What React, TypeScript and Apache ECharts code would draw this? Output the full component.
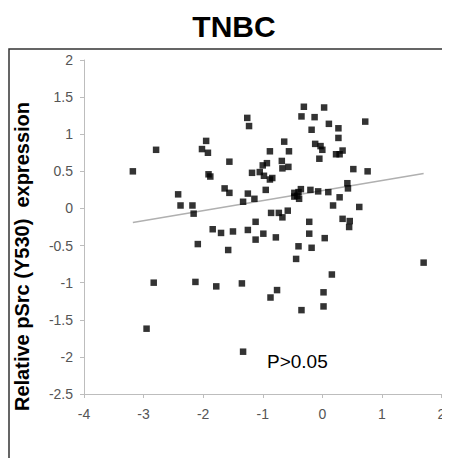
import React, { useEffect, useRef } from "react";
import * as echarts from "echarts";

const xValues = [
  -3.18, -2.79, -2.42, -2.38, -2.18, -2.16, -2.02, -1.95, -1.92, -1.91,
  -1.88, -1.64, -1.56, -1.56, -1.33, -1.26, -1.23, -1.25, -1.18, -1.14,
  -1.12, -1.05, -1.0, -0.93, -0.98, -0.88, -0.84, -0.95, -0.88, -0.64,
  -0.56, -0.68, -0.57, -0.67, -0.31, 0.03, -0.35, -0.13, 0.11, 0.27,
  0.72, -0.18, 0.27, -0.12, -0.03, 0.0, 0.34, 0.23, 0.29, -0.05,
  0.52, 0.76, -0.36, -0.4, -0.47, -0.42, -0.39, -0.47, -0.2, -0.07,
  0.1, 0.29, 0.42, 0.43, 0.18, 0.62, -0.86, -0.73, -0.67, -0.58,
  -1.84, -1.7, -1.5, -1.25, -0.99, -1.12, -0.78, -0.22, 0.34, 0.46,
  0.45, -0.22, 0.04, -0.4, -0.18, -2.09, -1.58, -0.44, 0.16, 0.02,
  0.02, -0.35, -0.76, -0.87, 1.7, -1.35, -1.33, -2.83, -2.13, -1.78,
  -2.95,
];
const yValues = [
  0.5, 0.79, 0.19, 0.04, 0.04, -0.07, 0.8, 0.91, 0.75, 0.46,
  0.43, 0.27, 0.21, 0.63, 0.09, 1.22, 1.11, 0.2, 0.48, 0.13,
  -0.18, 0.49, 0.58, 0.61, 0.44, 0.39, 0.41, 0.25, 0.77, 0.9,
  0.77, 0.64, 0.56, 0.54, 1.37, 1.36, 1.24, 1.23, 1.14, 1.08,
  1.17, 1.06, 0.95, 0.87, 0.84, 0.79, 0.78, 0.73, 0.73, 0.67,
  0.53, 0.5, 0.26, 0.22, 0.21, 0.17, 0.13, 0.16, 0.25, 0.23,
  0.22, 0.15, 0.34, 0.27, 0.04, 0.02, -0.06, -0.06, -0.12, -0.03,
  -0.28, -0.33, -0.31, -0.29, -0.34, -0.42, -0.39, -0.18, -0.14, -0.17,
  -0.25, -0.34, -0.4, -0.51, -0.53, -0.48, -0.56, -0.68, -0.89, -1.13,
  -1.32, -1.37, -1.1, -1.2, -0.73, -1.01, -1.93, -1.0, -0.99, -1.05,
  -1.62,
];
const trendX = [-3.18, 1.7];
const trendY = [-0.19, 0.47];
const titleText = "TNBC";
const yAxisName = "Relative pSrc (Y530)  expression";
const pText = "P>0.05";

export default function App() {
  const ref = useRef<HTMLDivElement>(null);
  useEffect(() => {
    if (!ref.current) return;
    const chart = echarts.init(ref.current, null, { renderer: "svg" });
    const points = xValues.map((x, i) => [x, yValues[i]]);
    const trend = trendX.map((x, i) => [x, trendY[i]]);
    const axisLabelStyle = {
      color: "#555555",
      fontFamily: "Liberation Sans, Arial, sans-serif",
      fontSize: 14,
    };
    chart.setOption({
      animation: false,
      backgroundColor: "#ffffff",
      title: {
        text: titleText,
        left: 229,
        top: 6,
        textAlign: "center",
        textStyle: {
          fontFamily: "Liberation Sans, Arial, sans-serif",
          fontWeight: "bold",
          fontSize: 30,
          color: "#000",
        },
      },
      grid: { left: 84, right: 8.5, top: 60, bottom: 64 },
      xAxis: {
        type: "value",
        min: -4,
        max: 2,
        interval: 1,
        splitLine: { show: false },
        axisLine: { onZero: false, lineStyle: { color: "#bdbdbd", width: 1 } },
        axisTick: { show: true, length: 4, lineStyle: { color: "#bdbdbd" } },
        axisLabel: { ...axisLabelStyle, margin: 13 },
      },
      yAxis: {
        type: "value",
        min: -2.5,
        max: 2,
        interval: 0.5,
        splitLine: { show: false },
        axisLine: { show: true, onZero: false, lineStyle: { color: "#bdbdbd", width: 1 } },
        axisTick: { show: true, length: 4, lineStyle: { color: "#bdbdbd" } },
        axisLabel: { ...axisLabelStyle, margin: 11 },
      },
      graphic: [
        {
          type: "rect",
          shape: { x: 9, y: 49, width: 470, height: 430 },
          style: { fill: "none", stroke: "#333", lineWidth: 1.5 },
          silent: true,
        },
        {
          type: "text",
          x: 22,
          y: 256.5,
          rotation: Math.PI / 2,
          style: {
            text: yAxisName,
            fill: "#000",
            font: "bold 20px 'Liberation Sans', Arial, sans-serif",
            textAlign: "center",
            textVerticalAlign: "middle",
          },
        },
        {
          type: "text",
          x: 267,
          y: 361,
          style: {
            text: pText,
            fill: "#000",
            font: "19px 'Liberation Sans', Arial, sans-serif",
            textAlign: "left",
            textVerticalAlign: "middle",
          },
        },
      ],
      series: [
        {
          type: "line",
          data: trend,
          symbol: "none",
          lineStyle: { color: "#b0b0b0", width: 1.5 },
          silent: true,
          z: 1,
        },
        {
          type: "scatter",
          data: points,
          symbol: "rect",
          symbolSize: 6.5,
          itemStyle: { color: "#000" },
          z: 2,
        },
      ],
    });
    return () => chart.dispose();
  }, []);
  return <div ref={ref} style={{ width: 450, height: 458, marginLeft: -8, marginTop: -8 }} />;
}
